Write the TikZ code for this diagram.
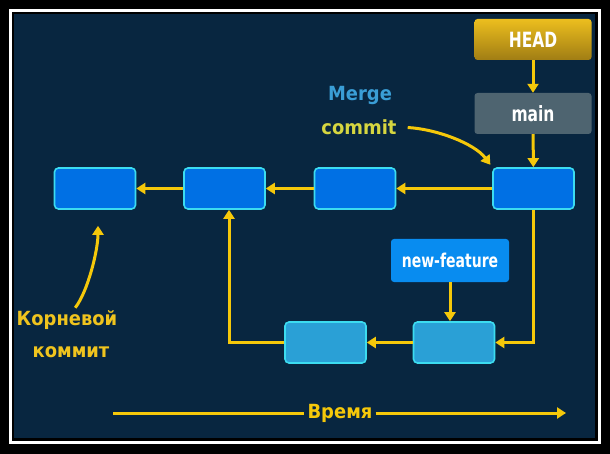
\documentclass[tikz,border=0pt]{standalone}
\usepackage{fontspec}
\setmainfont{DejaVu Sans}
\newfontfamily\etiqfont{DejaVu Sans Condensed}[FakeStretch=0.82]
\newfontfamily\texfont{DejaVu Sans}[FakeStretch=0.92]
\usetikzlibrary{arrows.meta}

\definecolor{fond}{RGB}{8,38,64}
\definecolor{bleuCommit}{RGB}{0,112,228}
\definecolor{bordCommit}{RGB}{60,220,240}
\definecolor{bleuBranche}{RGB}{42,160,214}
\definecolor{orHaut}{RGB}{236,190,30}
\definecolor{orBas}{RGB}{160,125,20}
\definecolor{grisMain}{RGB}{78,100,112}
\definecolor{bleuFeature}{RGB}{8,140,240}
\definecolor{jaune}{RGB}{245,200,10}
\definecolor{bleuMerge}{RGB}{58,158,214}
\definecolor{jauneCommit}{RGB}{214,214,64}
\definecolor{jauneRacine}{RGB}{240,196,30}

\begin{document}
\begin{tikzpicture}[x=1pt,y=-1pt]
% style des noeuds
\tikzstyle{commit} = [rectangle, rounded corners=4pt, draw=bordCommit, line width=1.6pt,
  fill=bleuCommit, minimum width=81pt, minimum height=41pt]
\tikzstyle{branche} = [commit, fill=bleuBranche]
\tikzstyle{etiquette} = [rectangle, rounded corners=3pt, text=white,
  font=\etiqfont\bfseries\fontsize{21}{21}\selectfont, minimum width=117pt, minimum height=41pt]
\tikzstyle{texte} = [font=\texfont\bfseries\fontsize{19.5}{22}\selectfont, inner sep=1pt]
% style des flèches
\tikzstyle{suite} = [-{Triangle[length=9pt,width=11pt]}, draw=jaune, line width=3pt]

% cadre
\fill[black] (0,0) rectangle (610,454);
\draw[white, line width=3pt] (10.5,10.5) rectangle (599,442);
\fill[fond] (14,14) rectangle (595,438);
\useasboundingbox (0,0) rectangle (610,454);

%% placement des noeuds
\node[etiquette, top color=orHaut, bottom color=orBas] (head) at (533,39.5) {HEAD};
\node[etiquette, fill=grisMain] (main) at (533,113.5) {main};
\node[commit] (c1) at (95,188.5) {};
\node[commit] (c2) at (224.5,188.5) {};
\node[commit] (c3) at (355,188.5) {};
\node[commit] (c4) at (533.5,188.5) {};
\node[etiquette, fill=bleuFeature, minimum width=118pt, minimum height=43pt,
  font=\etiqfont\bfseries\fontsize{19}{19}\selectfont] (feature) at (450,260.5) {new-feature};
\node[branche] (b1) at (325.5,342.5) {};
\node[branche] (b2) at (454,342.5) {};
\node[texte, text=bleuMerge] (mergeTxt) at (360,95) {Merge};
\node[texte, text=jauneCommit] (commitTxt) at (359,127) {commit};
\node[texte, text=jauneRacine] (racine) at (67,320) {Корневой};
\node[texte, text=jauneRacine] (racine2) at (71,352) {коммит};
\node[texte, text=jaune, inner xsep=3pt, fill=fond] (temps) at (340,413) {Время};
\coordinate (tDebut) at (113,413);
\coordinate (tFin) at (566,413);
%
%% placement des flèches
\draw[suite] (head) -- (main);
\draw[suite] (main) -- (c4);
\draw[suite] (c4) -- (c3);
\draw[suite] (c3) -- (c2);
\draw[suite] (c2) -- (c1);
\draw[suite] (c4.south) |- (b2.east);
\draw[suite] (b2) -- (b1);
\draw[suite] (b1.west) -| ([xshift=4.5pt]c2.south);
\draw[suite] (feature.south) -- (feature.south |- b2.north);
\draw[suite, shorten <=10pt, shorten >=3pt] (commitTxt.east) .. controls +(38,2) and +(-18,-24) .. (c4.north west);
\draw[suite, shorten <=2pt, shorten >=16pt] ([xshift=7pt]racine.north) .. controls +(14,-18) and +(0,40) .. ([xshift=3pt]c1.south);
\draw[draw=jaune, line width=3pt] (tDebut) -- (temps.west);
\draw[suite] (temps.east) -- (tFin);
\end{tikzpicture}
\end{document}
